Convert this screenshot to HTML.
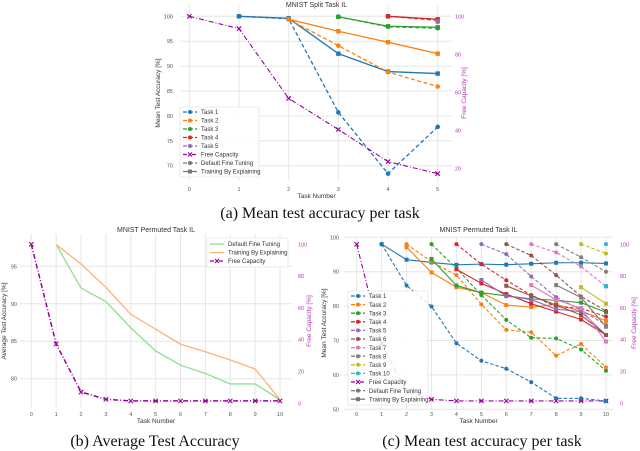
<!DOCTYPE html>
<html><head><meta charset="utf-8">
<style>
html,body{margin:0;padding:0;background:#fff;}
svg{display:block;font-family:"Liberation Sans",sans-serif;}
.cap{font-family:"Liberation Serif",serif;font-size:16px;fill:#111;}
</style></head>
<body>
<svg id="fig" width="640" height="451" viewBox="0 0 640 451" xmlns="http://www.w3.org/2000/svg">
<text class="cap" x="320" y="218" text-anchor="middle">(a) Mean test accuracy per task</text>
<text class="cap" x="155" y="446" text-anchor="middle">(b) Average Test Accuracy</text>
<text class="cap" x="482" y="446" text-anchor="middle">(c) Mean test accuracy per task</text>
</svg>
<script>
// ---------- Chart A data ----------
const aTasks = [0,1,2,3,4,5];
const aLeftTicks = [70,75,80,85,90,95,100];
const aRightTicks = [20,40,60,80,100];
const aT1Tbe = [null,100,99.6,92.5,88.9,88.5];
const aT1Dft = [null,100,99.5,80.7,68.4,77.8];
const aT2Tbe = [null,null,99.4,97.0,94.8,92.5];
const aT2Dft = [null,null,99.4,94.1,88.8,85.9];
const aT3Tbe = [null,null,null,99.9,98.0,97.8];
const aT3Dft = [null,null,null,99.9,97.9,97.6];
const aT4Tbe = [null,null,null,null,100,99.4];
const aT4Dft = [null,null,null,null,100,99.2];
const aT5Tbe = [null,null,null,null,null,99.0];
const aT5Dft = [null,null,null,null,null,98.9];
const aFree = [100,93.5,56.8,40.4,23.5,17.2];
// ---------- Chart B data ----------
const bTasks = [0,1,2,3,4,5,6,7,8,9,10];
const bLeftTicks = [80,85,90,95];
const bRightTicks = [0,20,40,60,80,100];
const bDft = [null,97.9,92.1,90.3,86.8,83.7,81.8,80.7,79.3,79.3,77.2];
const bTbe = [null,97.9,95.3,92.2,88.6,86.6,84.6,83.6,82.5,81.3,77.2];
const bFree = [100,37.3,7.1,2.5,1.5,1.5,1.5,1.5,1.5,1.5,1.5];
// ---------- Chart C data ----------
const cTasks = [0,1,2,3,4,5,6,7,8,9,10];
const cLeftTicks = [50,60,70,80,90,100];
const cRightTicks = [0,20,40,60,80,100];
const cT1Tbe = [null,98,93.5,92.7,92,92.2,92.05,92.3,92.6,92.6,92.4];
const cT1Dft = [null,98,86,79.9,69.2,64.1,61.8,57.9,53.2,53.2,52.4];
const cT2Tbe = [null,null,97.1,89.8,85.5,83.9,80.3,79.7,80.5,78.6,75.7];
const cT2Dft = [null,null,98,92.9,89,80.5,73.1,72.4,65.6,69,62.2];
const cT3Tbe = [null,null,null,93.7,86,83.9,83,82.1,81.7,81,78.2];
const cT3Dft = [null,null,null,98,91,83.2,76,70.8,70.6,67.4,61.2];
const cT4Tbe = [null,null,null,null,90.7,86.6,83.5,80.7,78.4,76.1,71.6];
const cT4Dft = [null,null,null,null,98,92.2,87.5,83.2,79.8,79.4,76.9];
const cT5Tbe = [null,null,null,null,null,87.6,82.9,81.9,79.1,78.4,71.6];
const cT5Dft = [null,null,null,null,null,98,95.1,88.6,82.6,78.9,74.5];
const cT6Tbe = [null,null,null,null,null,null,85.9,83,80.3,77.4,71.6];
const cT6Dft = [null,null,null,null,null,null,98,94.7,89,82.8,78.6];
const cT7Tbe = [null,null,null,null,null,null,null,86.1,81.8,79.4,69.7];
const cT7Dft = [null,null,null,null,null,null,null,98,95.6,91.5,85.7];
const cT8Tbe = [null,null,null,null,null,null,null,null,86.1,82.5,74];
const cT8Dft = [null,null,null,null,null,null,null,null,98,94.2,90];
const cT9Tbe = [null,null,null,null,null,null,null,null,null,85.5,80.7];
const cT9Dft = [null,null,null,null,null,null,null,null,null,98,95.3];
const cT10Tbe = [null,null,null,null,null,null,null,null,null,null,85.8];
const cT10Dft = [null,null,null,null,null,null,null,null,null,null,98];
const cFree = [100,37.3,7.1,2.5,1.5,1.5,1.5,1.5,1.5,1.5,1.5];

const NS = "http://www.w3.org/2000/svg";
const svg = document.getElementById('fig');
const COL = ['#1f77b4','#ff7f0e','#2ca02c','#d62728','#9467bd','#8c564b','#e377c2','#7f7f7f','#bcbd22','#17becf'];
const FREE = '#990099';
const TICK = '#555';
function mk(tag, attrs, parent){ const e=document.createElementNS(NS,tag); for(const k in attrs) e.setAttribute(k,attrs[k]); (parent||svg).appendChild(e); return e; }

function makeChart(o){
  const g = mk('g',{});
  
  
  const xs = v => o.x0 + (v - o.xmin) * (o.x1 - o.x0) / (o.xmax - o.xmin);
  const yl = v => o.yl0 + (v - o.lmin) * (o.yl1 - o.yl0) / (o.lmax - o.lmin);
  const yr = v => o.yr0 + (v - o.rmin) * (o.yr1 - o.yr0) / (o.rmax - o.rmin);
  o.xTicks.forEach(t=>{ const l=mk('line',{x1:xs(t),x2:xs(t),y1:o.top,y2:o.bottom,stroke:'#e6e6e6','stroke-width':1},g);
     
    const tx=mk('text',{x:xs(t),y:o.xTickY,'font-size':5.5,fill:TICK,'text-anchor':'middle'},g); tx.textContent=t;
      });
  o.lTicks.forEach(t=>{ const l=mk('line',{x1:o.left,x2:o.right,y1:yl(t),y2:yl(t),stroke:'#e6e6e6','stroke-width':1},g);
     
    const tx=mk('text',{x:o.lTickX,y:yl(t)+2,'font-size':5.5,fill:TICK,'text-anchor':'end'},g); tx.textContent=t;
      });
  o.rTicks.forEach(t=>{ const tx=mk('text',{x:o.rTickX,y:yr(t)+2,'font-size':5.5,fill:'#b040b0','text-anchor':'start'},g); tx.textContent=t;
      });
  let t=mk('text',{x:(o.left+o.right)/2,y:o.titleY,'font-size':7,fill:'#333','text-anchor':'middle'},g); t.textContent=o.title;
   
  t=mk('text',{x:(o.left+o.right)/2,y:o.xLabY,'font-size':6.5,fill:'#333','text-anchor':'middle'},g); t.textContent='Task Number';
   
  const cy=(o.top+o.bottom)/2;
  t=mk('text',{x:o.yLabX,y:cy,'font-size':6.5,fill:'#333','text-anchor':'middle',transform:`rotate(-90 ${o.yLabX} ${cy})`},g); t.textContent=o.yLabel;
   
  t=mk('text',{x:o.rLabX,y:cy,'font-size':6.5,fill:'#b040b0','text-anchor':'middle',transform:`rotate(-90 ${o.rLabX} ${cy})`},g); t.textContent='Free Capacity [%]';
   
  o.series.forEach(s=>{
    const sc = s.right ? yr : yl;
    const pts=[]; s.data.forEach((v,i)=>{ if(v!==null) pts.push([xs(o.xTicks[i]), sc(v)]); });
    const sg=mk('g',{},g);
     
    if(pts.length>1){ const p=mk('polyline',{points:pts.map(p=>p.join(',')).join(' '),fill:'none',stroke:s.color,'stroke-width':s.w||1.3,'stroke-dasharray':s.dash||'none'},sg);
        }
    if(s.marker) pts.forEach(p=>{ let m;
      if(s.marker==='o') m=mk('circle',{cx:p[0],cy:p[1],r:s.ms||2.3,fill:s.color},sg);
      else if(s.marker==='s') m=mk('rect',{x:p[0]-(s.ms||2.2),y:p[1]-(s.ms||2.2),width:2*(s.ms||2.2),height:2*(s.ms||2.2),fill:s.color},sg);
      else m=mk('path',{d:`M${p[0]-2.2},${p[1]-2.2}L${p[0]+2.2},${p[1]+2.2}M${p[0]-2.2},${p[1]+2.2}L${p[0]+2.2},${p[1]-2.2}`,stroke:s.color,'stroke-width':1.1},sg);
        });
  });
  const L=o.legend;
  const lg=mk('g',{},g);
   
  const bx=mk('rect',{x:L.x,y:L.y,width:L.w,height:L.h,rx:1.5,fill:'rgba(255,255,255,0.85)',stroke:'#ddd','stroke-width':0.6},lg);
   
  L.items.forEach((it,i)=>{
    const yy=L.y+L.pad+i*L.sp; const eg=mk('g',{},lg);
     
    mk('line',{x1:L.x+3,x2:L.x+17,y1:yy,y2:yy,stroke:it.color,'stroke-width':1.3,'stroke-dasharray':it.dash||'none'},eg);
    if(it.marker==='o') mk('circle',{cx:L.x+10,cy:yy,r:2,fill:it.color},eg);
    else if(it.marker==='s') mk('rect',{x:L.x+8,y:yy-2,width:4,height:4,fill:it.color},eg);
    else if(it.marker==='x') mk('path',{d:`M${L.x+8},${yy-2}L${L.x+12},${yy+2}M${L.x+8},${yy+2}L${L.x+12},${yy-2}`,stroke:it.color,'stroke-width':1.1},eg);
    const tx=mk('text',{x:L.x+21,y:yy+2.2,'font-size':L.fs||6.2,fill:'#333'},eg); tx.textContent=it.label;
  });
}

const aSeries=[];
[[aT1Tbe,aT1Dft],[aT2Tbe,aT2Dft],[aT3Tbe,aT3Dft],[aT4Tbe,aT4Dft],[aT5Tbe,aT5Dft]].forEach((pr,i)=>{
  aSeries.push({name:'task'+(i+1)+'-dft',data:pr[1],color:COL[i],dash:'4,2.5',marker:'o',w:1.3});
  aSeries.push({name:'task'+(i+1)+'-tbe',data:pr[0],color:COL[i],marker:'s',w:1.3});
});
aSeries.push({name:'free-capacity',data:aFree,color:FREE,dash:'5,2,1,2',marker:'x',right:true,w:1.1});
const aLegItems=[1,2,3,4,5].map(i=>({label:'Task '+i,color:COL[i-1],marker:'o',dash:'4,2'}));
aLegItems.push({label:'Free Capacity',color:FREE,marker:'x',dash:'4,2,1,2'});
aLegItems.push({label:'Default Fine Tuning',color:'#777',marker:'o',dash:'4,2'});
aLegItems.push({label:'Training By Explaining',color:'#777',marker:'s'});
makeChart({name:'chart-a-split-task',xmin:0,xmax:5,x0:189.3,x1:437.7,lmin:70,lmax:100,yl0:165.7,yl1:16.3,
  rmin:20,rmax:100,yr0:168.3,yr1:16.3,left:181,right:452,top:5,bottom:181,xTicks:aTasks,lTicks:aLeftTicks,rTicks:aRightTicks,
  lTickX:173,rTickX:455,xTickY:191,titleY:7,xLabY:198,yLabX:160,rLabX:466,title:'MNIST Split Task IL',yLabel:'Mean Test Accuracy [%]',
  series:aSeries,legend:{x:180,y:107,w:79,h:70,pad:5,sp:8.5,fs:6,items:aLegItems}});

makeChart({name:'chart-b-average-accuracy',xmin:0,xmax:10,x0:31.3,x1:280,lmin:80,lmax:95,yl0:378.7,yl1:266.3,
  rmin:0,rmax:100,yr0:403.3,yr1:244.3,left:20,right:292,top:234,bottom:408,xTicks:bTasks,lTicks:bLeftTicks,rTicks:bRightTicks,
  lTickX:17,rTickX:298,xTickY:416,titleY:232,xLabY:423,yLabX:6,rLabX:311,title:'MNIST Permuted Task IL',yLabel:'Average Test Accuracy [%]',
  series:[{name:'default-fine-tuning',data:bDft,color:'#8ee08e',w:1.3},{name:'training-by-explaining',data:bTbe,color:'#ffb27a',w:1.3},
    {name:'free-capacity',data:bFree,color:FREE,dash:'5,2,1,2',marker:'x',right:true,w:1.5}],
  legend:{x:207,y:238,w:81,h:29,pad:6,sp:8.5,fs:6,items:[{label:'Default Fine Tuning',color:'#8ee08e'},{label:'Training By Explaining',color:'#ffb27a'},{label:'Free Capacity',color:FREE,marker:'x',dash:'4,2,1,2'}]}});

const cPairs=[[cT1Tbe,cT1Dft],[cT2Tbe,cT2Dft],[cT3Tbe,cT3Dft],[cT4Tbe,cT4Dft],[cT5Tbe,cT5Dft],[cT6Tbe,cT6Dft],[cT7Tbe,cT7Dft],[cT8Tbe,cT8Dft],[cT9Tbe,cT9Dft],[cT10Tbe,cT10Dft]];
const cSeries=[{name:'free-capacity',data:cFree,color:FREE,dash:'5,2,1,2',marker:'x',right:true,w:1.1}];
cPairs.forEach((pr,i)=>{
  cSeries.push({name:'task'+(i+1)+'-dft',data:pr[1],color:COL[i],dash:'3.5,2',marker:'o',w:1.1,ms:2});
  cSeries.push({name:'task'+(i+1)+'-tbe',data:pr[0],color:COL[i],marker:'s',w:1.1,ms:2});
});
const cLegItems=[1,2,3,4,5,6,7,8,9,10].map(i=>({label:'Task '+i,color:COL[i-1],marker:'o',dash:'4,2'}));
cLegItems.push({label:'Free Capacity',color:FREE,marker:'x',dash:'4,2,1,2'});
cLegItems.push({label:'Default Fine Tuning',color:'#777',marker:'o',dash:'4,2'});
cLegItems.push({label:'Training By Explaining',color:'#777',marker:'s'});
makeChart({name:'chart-c-permuted-task',xmin:0,xmax:10,x0:356.7,x1:606,lmin:50,lmax:100,yl0:409.3,yl1:237.3,
  rmin:0,rmax:100,yr0:403.3,yr1:244.3,left:344,right:613,top:237,bottom:409,xTicks:cTasks,lTicks:cLeftTicks,rTicks:cRightTicks,
  lTickX:339,rTickX:620,xTickY:416,titleY:232,xLabY:423,yLabX:326,rLabX:636,title:'MNIST Permuted Task IL',yLabel:'Mean Test Accuracy [%]',
  series:cSeries,legend:{x:348,y:291,w:80,h:114,pad:5,sp:8.6,fs:6,items:cLegItems}});
</script>
</body></html>
